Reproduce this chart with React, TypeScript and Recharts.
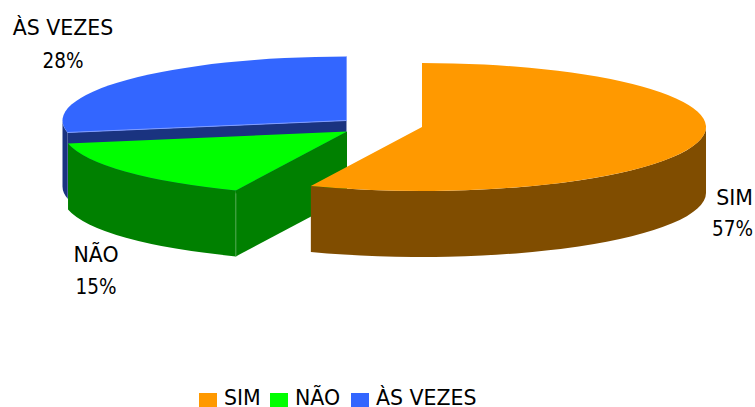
import React from 'react';
import { PieChart, Pie, Legend } from 'recharts';

const categories = ['SIM', 'NÃO', 'ÀS VEZES'];
// slice sizes as measured on the drawing; the printed figures are rounded by the original chart
const shares = [56.4, 15.6, 28];
const printedPercents = ['57%', '15%', '28%'];
const topColors = ['#FF9900', '#00FF00', '#3366FF'];
const wallColors = ['#804D00', '#008000', '#1A3380'];
// how far each slice is pulled out of the pie
const explodeX = [27, -48, -48.5];
const explodeY = [2, 6.5, -4.5];
// where the data labels sit
const labelX = [734.5, 96, 63];
const nameY = [205, 262, 35];
const percentY = [236, 294, 68];
const legendX = [199, 270, 351];

const WIDTH = 755;
const HEIGHT = 407;
const TILT = 64 / 284;
const DEPTH = 66;
const FONT = '"DejaVu Sans", sans-serif';
const DIGIT_FONT = '"DejaVu Sans Condensed", "DejaVu Sans", sans-serif';
const FONT_SIZE = 20.5;

// slices are painted back to front, so the table runs opposite to the legend
const pieData = categories
  .map((name, i) => ({ name, value: shares[i], fill: topColors[i] }))
  .reverse();

function Slice3D(props: any) {
  const { cx, cy, outerRadius, startAngle, endAngle, name } = props;
  const i = categories.indexOf(name);
  const ox = cx + explodeX[i];
  const oy = cy + explodeY[i];
  const rx = outerRadius;
  const ry = outerRadius * TILT;
  const px = (a: number) => ox + rx * Math.cos((a * Math.PI) / 180);
  const py = (a: number) => oy - ry * Math.sin((a * Math.PI) / 180);
  const large = endAngle - startAngle > 180 ? 1 : 0;

  const top = `M${ox},${oy} L${px(startAngle)},${py(startAngle)} A${rx},${ry} 0 ${large} 0 ${px(endAngle)},${py(endAngle)} Z`;
  const wall = `M${ox},${oy} L${px(endAngle)},${py(endAngle)} v${DEPTH} L${ox},${oy + DEPTH} Z`;

  const from = Math.max(startAngle, 180);
  const to = Math.min(endAngle, 360);
  const rim =
    to > from
      ? `M${px(from)},${py(from)} A${rx},${ry} 0 0 0 ${px(to)},${py(to)} v${DEPTH} A${rx},${ry} 0 0 1 ${px(from)},${py(from) + DEPTH} Z`
      : null;

  return (
    <g>
      <path d={wall} fill={wallColors[i]} />
      {rim && <path d={rim} fill={wallColors[i]} />}
      <path d={top} fill={topColors[i]} />
      {name === 'ÀS VEZES' && (
        <path
          d={`M${px(endAngle)},${py(endAngle)} L${ox},${oy} V${py(startAngle)}`}
          fill="none"
          stroke="#7F9CFF"
          strokeWidth={1}
        />
      )}
      {name === 'NÃO' && (
        <path
          d={`M${px(endAngle)},${py(endAngle) + 3} v${DEPTH - 3}`}
          stroke="#4DA64D"
          strokeWidth={1}
        />
      )}
    </g>
  );
}

function SliceLabel(props: any) {
  const i = categories.indexOf(props.name);
  return (
    <text fontSize={FONT_SIZE} fill="#000" textAnchor="middle">
      <tspan x={labelX[i]} y={nameY[i]} fontFamily={FONT}>{props.name}</tspan>
      <tspan x={labelX[i] - (i === 0 ? 2 : 0)} y={percentY[i]} fontFamily={DIGIT_FONT}>{printedPercents[i]}</tspan>
    </text>
  );
}

function ChartLegend() {
  return (
    <div style={{ position: 'absolute', left: 0, top: 386, width: WIDTH, height: 21, fontFamily: FONT, fontSize: FONT_SIZE, lineHeight: '21px', color: '#000', whiteSpace: 'nowrap' }}>
      {categories.map((name, i) => (
        <div key={name} style={{ position: 'absolute', left: legendX[i], top: 0 }}>
          <span style={{ position: 'absolute', left: 0, top: 7, width: 18, height: 14, background: topColors[i] }} />
          <span style={{ position: 'absolute', left: 25, top: 2 }}>{name}</span>
        </div>
      ))}
    </div>
  );
}

export default function App() {
  return (
    <div style={{ position: 'absolute', left: 0, top: 0, width: WIDTH, height: HEIGHT, overflow: 'hidden', background: '#fff' }}>
      <PieChart width={WIDTH} height={HEIGHT} margin={{ top: 0, right: 0, bottom: 0, left: 0 }}>
        <Pie
          data={pieData}
          dataKey="value"
          nameKey="name"
          cx={395}
          cy={125}
          outerRadius={284}
          startAngle={90}
          endAngle={450}
          stroke="none"
          shape={Slice3D}
          label={SliceLabel}
          labelLine={false}
          isAnimationActive={false}
        />
        <Legend content={ChartLegend} wrapperStyle={{ position: 'static' }} />
      </PieChart>
    </div>
  );
}
